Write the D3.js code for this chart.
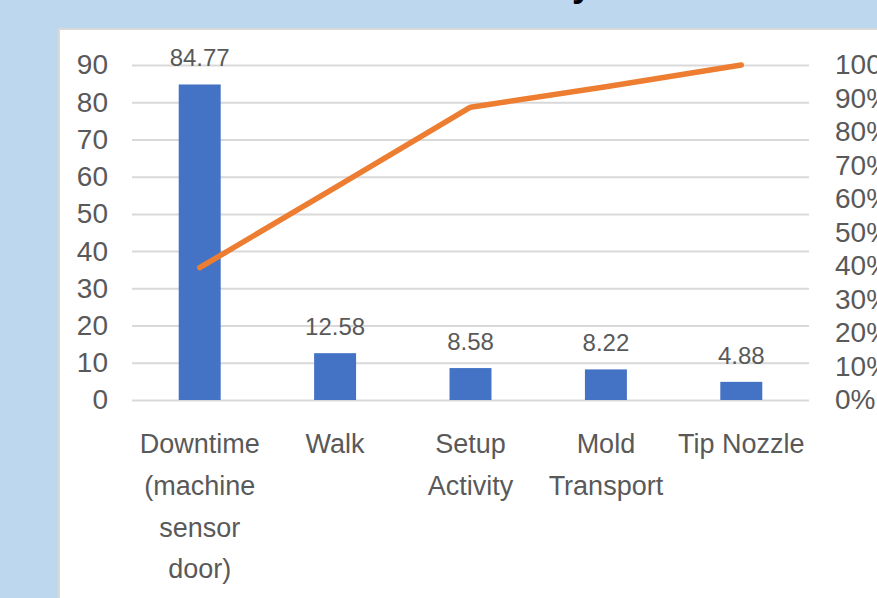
<!DOCTYPE html>
<html>
<head>
<meta charset="utf-8">
<script src="https://cdn.jsdelivr.net/npm/d3@7"></script>
<style>
  html, body { margin: 0; padding: 0; background: #bdd7ee; overflow: hidden; }
  svg { display: block; }
</style>
</head>
<body>
<svg id="chart" width="877" height="598"></svg>
<script>
// Waste categories, their times and the cumulative share (Pareto line)
const categories = ["Downtime (machine sensor door)", "Walk", "Setup Activity", "Mold Transport", "Tip Nozzle"];
const categoryLines = [["Downtime", "(machine", "sensor", "door)"], ["Walk"], ["Setup", "Activity"], ["Mold", "Transport"], ["Tip Nozzle"]];
const values = [84.77, 12.58, 8.58, 8.22, 4.88];
const cumulativePct = [0.395, 0.634, 0.874, 0.935, 1.0];
const leftTicks = [0, 10, 20, 30, 40, 50, 60, 70, 80, 90];
const rightTicks = [0, 0.1, 0.2, 0.3, 0.4, 0.5, 0.6, 0.7, 0.8, 0.9, 1.0];
const title = "Pareto Chart of Waste Activity";

const svg = d3.select("#chart");
const W = 877, H = 598;
const plot = { left: 132, right: 809, top: 65, bottom: 400 };
const font = "'Liberation Sans', Arial, sans-serif";
const textGray = "#595959";

// background
svg.append("rect").attr("width", W).attr("height", H).attr("fill", "#bdd7ee");

// title (runs off the top edge)
svg.append("text")
  .attr("x", 592).attr("y", -4)
  .attr("text-anchor", "end")
  .attr("font-family", font).attr("font-weight", "bold").attr("font-size", 36)
  .attr("fill", "#000")
  .text(title);

// chart panel
svg.append("rect")
  .attr("x", 59).attr("y", 29).attr("width", W).attr("height", H)
  .attr("fill", "#ffffff").attr("stroke", "#d9d9d9").attr("stroke-width", 2);

const x = d3.scaleBand().domain(categories)
  .range([plot.left, plot.right]).paddingInner(0.69).paddingOuter(0.345);
const y = d3.scaleLinear().domain([0, 90]).range([plot.bottom, plot.top]);
const yPct = d3.scaleLinear().domain([0, 1]).range([plot.bottom, plot.top]);

// gridlines + left axis labels
const gLeft = svg.append("g").attr("transform", `translate(${plot.left},0)`)
  .call(d3.axisLeft(y).tickValues(leftTicks).tickSize(-(plot.right - plot.left)).tickPadding(24));
gLeft.select(".domain").remove();
gLeft.selectAll(".tick line").attr("stroke", "#d9d9d9").attr("stroke-width", 2);
gLeft.selectAll(".tick text").attr("font-family", font).attr("font-size", 28).attr("fill", textGray);

// right axis (percent)
const gRight = svg.append("g").attr("transform", `translate(${plot.right},0)`)
  .call(d3.axisRight(yPct).tickValues(rightTicks).tickFormat(d3.format(".0%")).tickSize(0).tickPadding(26));
gRight.select(".domain").remove();
gRight.selectAll(".tick text").attr("font-family", font).attr("font-size", 28).attr("fill", textGray);

// bars
svg.append("g").selectAll("rect").data(values).join("rect")
  .attr("x", (d, i) => x(categories[i]))
  .attr("y", d => y(d))
  .attr("width", x.bandwidth())
  .attr("height", d => y(0) - y(d))
  .attr("fill", "#4472c4");

// value labels
svg.append("g").selectAll("text").data(values).join("text")
  .attr("x", (d, i) => x(categories[i]) + x.bandwidth() / 2)
  .attr("y", d => y(d) - 18)
  .attr("text-anchor", "middle")
  .attr("font-family", font).attr("font-size", 24).attr("fill", textGray)
  .text(d => d.toFixed(2));

// cumulative line
const line = d3.line()
  .x((d, i) => x(categories[i]) + x.bandwidth() / 2)
  .y(d => yPct(d));
svg.append("path").datum(cumulativePct)
  .attr("d", line)
  .attr("fill", "none").attr("stroke", "#ed7d31").attr("stroke-width", 5.5)
  .attr("stroke-linecap", "round").attr("stroke-linejoin", "round");

// category labels
const cat = svg.append("g").selectAll("text").data(categoryLines).join("text")
  .attr("text-anchor", "middle")
  .attr("font-family", font).attr("font-size", 27).attr("fill", textGray);
cat.each(function(lines, i) {
  const cx = x(categories[i]) + x.bandwidth() / 2;
  d3.select(this).selectAll("tspan").data(lines).join("tspan")
    .attr("x", cx)
    .attr("y", (d, j) => 453 + j * 41.8)
    .text(d => d);
});
</script>
</body>
</html>
